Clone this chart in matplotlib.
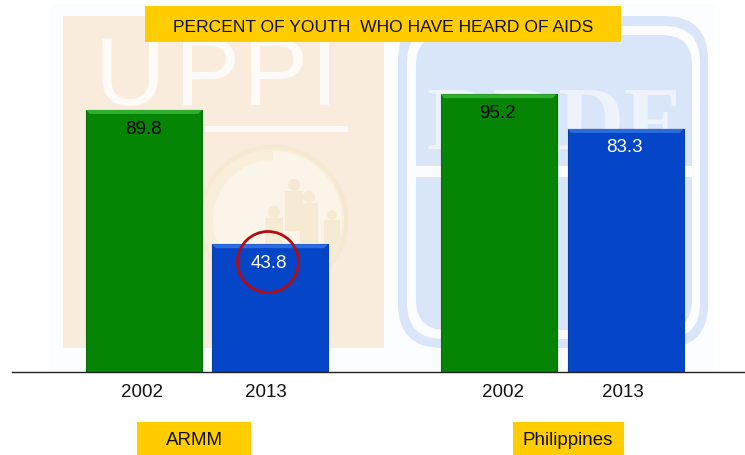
"""Percent of youth who have heard of AIDS: ARMM vs Philippines, 2002 and 2013."""

import matplotlib
matplotlib.use("Agg")
import matplotlib.pyplot as plt
from matplotlib.patches import Circle, FancyBboxPatch, Polygon, Rectangle, Wedge

GROUPS = ["ARMM", "Philippines"]
YEARS = ["2002", "2013", "2002", "2013"]
VALUES = [89.8, 43.8, 95.2, 83.3]
VALUE_COLORS = ["black", "white", "black", "white"]

W, H = 745, 456
BASE_Y = 373
PX_PER_UNIT = 2.918
BAR_X = [144, 270, 498.5, 625.5]
BAR_W = 116
YEAR_X = [142, 266, 503, 623]
GROUP_BANDS = [(137, 251), (513, 624)]
BEVEL = 4

BAR_STYLE = [
    ("#068406", "#056f05", "#2fae2f"),
    ("#0545c8", "#053fa8", "#2c6ce0"),
    ("#068406", "#056f05", "#2fae2f"),
    ("#0545c8", "#053fa8", "#2c6ce0"),
]
GOLD = "#ffcc00"
PEACH = "#faecdd"
SKY = "#d9e5f8"
TEXT_SIZE = 13.5

plt.rcParams["font.family"] = ["Liberation Sans", "DejaVu Sans"]

fig = plt.figure(figsize=(W / 100, H / 100), dpi=100, facecolor="white")


def pixel_axes(zorder):
    a = fig.add_axes([0, 0, 1, 1], zorder=zorder)
    a.set_xlim(0, W)
    a.set_ylim(H, 0)
    a.axis("off")
    return a


# Faded logos behind the chart
bg = pixel_axes(0)
bg.add_patch(Rectangle((50, 5), 665, 366, color="#fcfdfe", lw=0))
bg.add_patch(Rectangle((63, 17), 321, 332, color=PEACH, lw=0))
for ch, x in zip("UPPI", [130, 207, 275, 325]):
    bg.text(x, 80, ch, fontsize=70, color="#fdfaf7", ha="center", va="center")
bg.add_patch(Rectangle((200, 127), 148, 6, color="#fdfaf7", lw=0))
bg.add_patch(Circle((273, 221), 73, fc="#f9eeda", ec="#f6e9cf", lw=3))
bg.add_patch(Wedge((273, 221), 69, -90, 90, color="#fbf4e9", lw=0))
bg.add_patch(Wedge((273, 221), 60, 90, 270, color="#fbf4e9", lw=0))
for x, y, r in [(294, 186, 6), (309, 198, 6), (274, 213, 6), (332, 216, 5)]:
    bg.add_patch(Circle((x, y), r, color="#f7ead3", lw=0))
    bg.add_patch(Rectangle((x - r - 3, y + r), 2 * r + 6, 40, color="#f7ead3", lw=0))

bg.add_patch(FancyBboxPatch((398, 17), 310, 332, boxstyle="round,pad=0,rounding_size=44",
                            fc=SKY, ec="none"))
bg.add_patch(FancyBboxPatch((407, 27), 293, 313, boxstyle="round,pad=0,rounding_size=36",
                            fc="#fbfcfe", ec="none"))
bg.add_patch(FancyBboxPatch((416, 36), 276, 295, boxstyle="round,pad=0,rounding_size=30",
                            fc=SKY, ec="none"))
bg.add_patch(Rectangle((416, 167), 276, 11, color="#fbfcfe", lw=0))
bg.text(554, 128, "DRDF", fontsize=66, family="Liberation Serif", fontweight="bold",
        color="#eef3fb", ha="center", va="center")

# Bars
ax = fig.add_axes([0, (H - BASE_Y) / H, 1, BASE_Y / H], zorder=1)
ax.patch.set_alpha(0)
ax.set_xlim(0, W)
ax.set_ylim(0, BASE_Y / PX_PER_UNIT)
bars = ax.bar(BAR_X, VALUES, width=BAR_W, color=[s[0] for s in BAR_STYLE],
              edgecolor=[s[1] for s in BAR_STYLE], linewidth=0.8, zorder=2)
for bar, style, value, tcolor in zip(bars, BAR_STYLE, VALUES, VALUE_COLORS):
    left, right = bar.get_x(), bar.get_x() + bar.get_width()
    dy = BEVEL / PX_PER_UNIT
    ax.add_patch(Polygon([(left, value), (right, value),
                          (right - BEVEL, value - dy), (left + BEVEL, value - dy)],
                         closed=True, fc=style[2], ec="none", zorder=3))
    ax.annotate(f"{value}", xy=(bar.get_x() + BAR_W / 2, value), xytext=(-0.5, -13),
                textcoords="offset points", ha="center", va="center",
                fontsize=TEXT_SIZE, color=tcolor, zorder=4)

for side in ("top", "right", "left"):
    ax.spines[side].set_visible(False)
ax.spines["bottom"].set_bounds(12, W)
ax.spines["bottom"].set_color("#222222")
ax.spines["bottom"].set_linewidth(1)
ax.spines["bottom"].set_zorder(5)
ax.set_yticks([])
ax.set_xticks(YEAR_X, YEARS, fontsize=TEXT_SIZE, color="#111111")
ax.tick_params(axis="x", length=0, pad=8)

# Title, group labels, red circle
top = pixel_axes(2)
top.add_patch(Rectangle((145, 7), 476, 36, color=GOLD, lw=0))
top.text(383, 27, "PERCENT OF YOUTH  WHO HAVE HEARD OF AIDS", fontsize=12.6,
         color="#111111", ha="center", va="center")
for (x0, x1), name in zip(GROUP_BANDS, GROUPS):
    top.add_patch(Rectangle((x0, 423), x1 - x0, 33, color=GOLD, lw=0))
    top.text((x0 + x1) / 2 + (0 if name == "ARMM" else -1), 441, name, fontsize=TEXT_SIZE,
             color="#111111", ha="center", va="center")
top.add_patch(Circle((268, 263), 30.5, fill=False, ec="#b50c14", lw=2))

fig.savefig("out.png", dpi=100)
